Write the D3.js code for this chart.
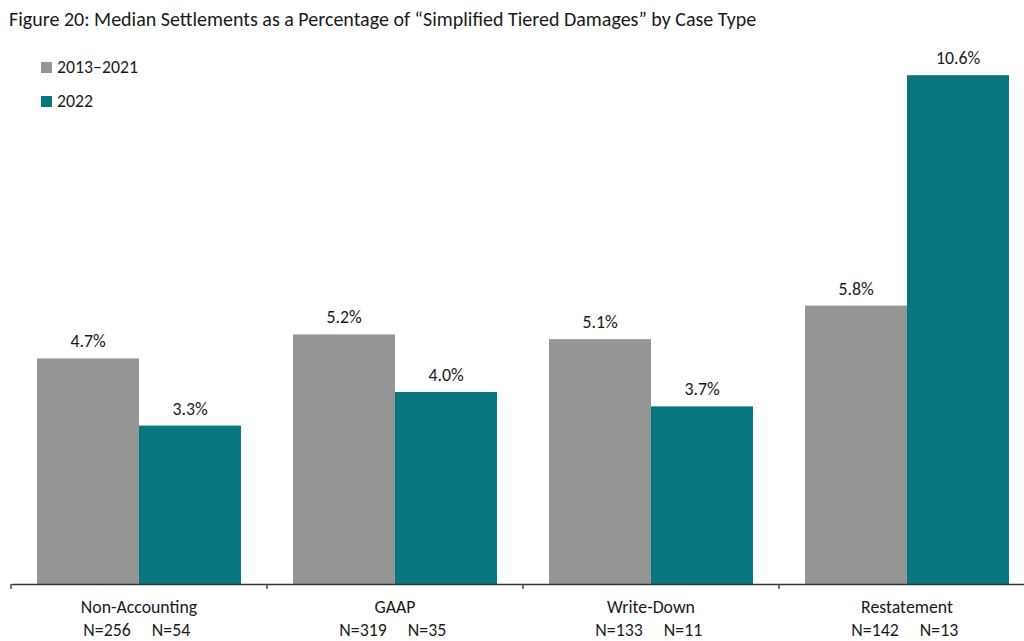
<!DOCTYPE html>
<html><head><meta charset="utf-8">
<script src="https://cdn.jsdelivr.net/npm/d3@7"></script>
<style>
html,body{margin:0;padding:0;background:#fff;}
svg{display:block;font-family:Carlito,Lato,"Open Sans",sans-serif;}
</style></head>
<body><svg id="c" width="1024" height="641"></svg>
<script>
const title = "Figure 20: Median Settlements as a Percentage of \u201cSimplified Tiered Damages\u201d by Case Type";
const categories = ["Non-Accounting","GAAP","Write-Down","Restatement"];
const seriesNames = ["2013\u20132021","2022"];
const values2013_2021 = [4.7, 5.2, 5.1, 5.8];
const values2022 = [3.3, 4.0, 3.7, 10.6];
const counts2013_2021 = [256, 319, 133, 142];
const counts2022 = [54, 35, 11, 13];
const colors = ["#959595", "#07767e"];

const svg = d3.select("#c");
const y = d3.scaleLinear().domain([0, 12]).range([584, 8]);
const x = d3.scaleBand().domain(categories).range([11, 1035]).padding(0);
const xs = d3.scaleBand().domain(seriesNames).range([26, x.bandwidth()-26]).padding(0);
const series = [values2013_2021, values2022];
const fs = 17.8;

svg.append("text").attr("x", 9).attr("y", 26).attr("font-size", 20).attr("fill", "#1a1a1a").text(title);

// legend
seriesNames.forEach((s, i) => {
  const g = svg.append("g").attr("transform", `translate(41,${62 + i*34})`);
  g.append("rect").attr("width", 11).attr("height", 11).attr("fill", colors[i]);
  g.append("text").attr("x", 16).attr("y", 11).attr("font-size", fs).attr("fill", "#1a1a1a").text(s);
});

// bars
categories.forEach((c, ci) => {
  seriesNames.forEach((s, si) => {
    const v = series[si][ci];
    const bx = x(c) + xs(s);
    svg.append("rect").attr("x", bx).attr("y", y(v)).attr("width", xs.bandwidth())
      .attr("height", y(0) - y(v)).attr("fill", colors[si]);
    svg.append("text").attr("x", bx + xs.bandwidth()/2).attr("y", y(v) - 11)
      .attr("text-anchor", "middle").attr("font-size", fs).attr("fill", "#1a1a1a")
      .text(v.toFixed(1) + "%");
  });
});

// axis
const axis = svg.append("g").attr("transform", `translate(0,${y(0)})`)
  .call(d3.axisBottom(x).tickSize(0).tickSizeOuter(0).tickFormat(""));
axis.select(".domain").attr("stroke", "#333").attr("stroke-width", 1.3);
categories.forEach(c => {
  axis.append("line").attr("x1", x(c)).attr("x2", x(c)).attr("y1", 0).attr("y2", 5)
    .attr("stroke", "#333").attr("stroke-width", 1.3);
});
categories.forEach((c, ci) => {
  const cx = x(c) + x.bandwidth()/2;
  svg.append("text").attr("x", cx).attr("y", 613).attr("text-anchor", "middle")
    .attr("font-size", fs).attr("fill", "#1a1a1a").text(c);
  svg.append("text").attr("x", cx - 32).attr("y", 636).attr("text-anchor", "middle")
    .attr("font-size", fs).attr("fill", "#1a1a1a").text("N=" + counts2013_2021[ci]);
  svg.append("text").attr("x", cx + 32).attr("y", 636).attr("text-anchor", "middle")
    .attr("font-size", fs).attr("fill", "#1a1a1a").text("N=" + counts2022[ci]);
});
</script></body></html>
